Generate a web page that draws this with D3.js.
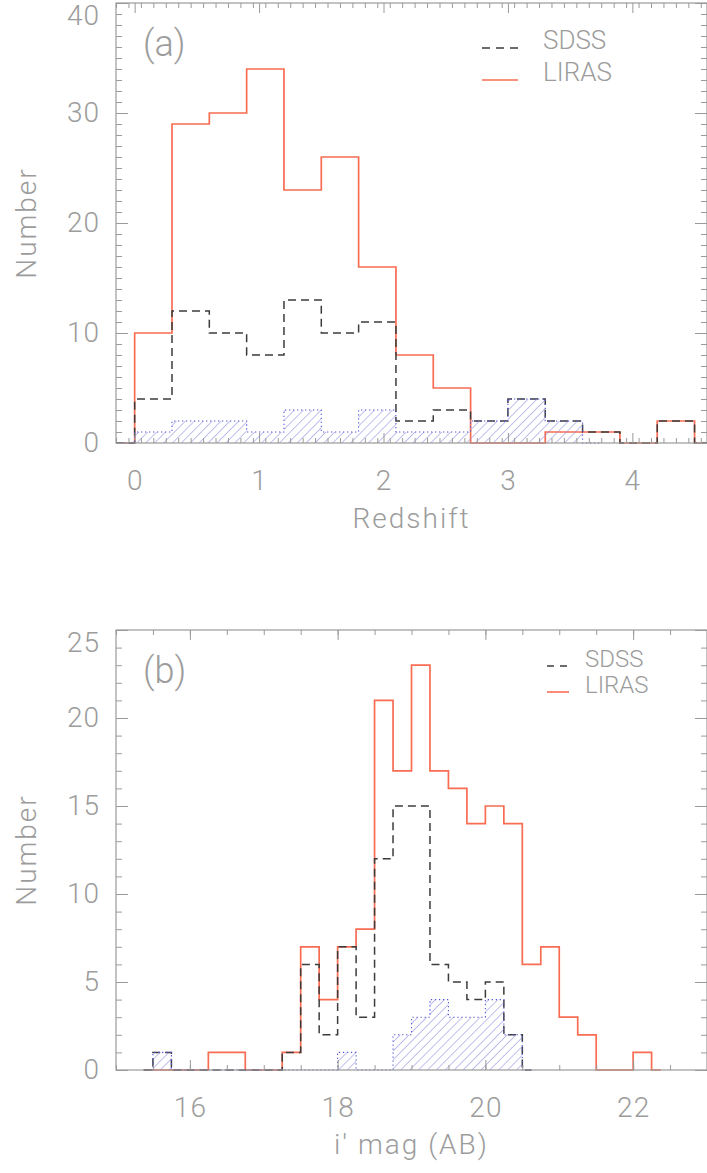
<!DOCTYPE html>
<html><head><meta charset="utf-8">
<script src="https://cdn.jsdelivr.net/npm/d3@7"></script>
<style>
body{margin:0;background:#fff;}
svg text{font-family:Roboto,"Liberation Sans","DejaVu Sans",sans-serif;fill:#9c9c9c;font-weight:300;}
</style></head><body>
<svg id="c" width="707" height="1173"></svg>
<script>
// ---------- Panel (a): redshift histograms (bin centres, width 0.3) ----------
const zCenters = [-0.15,0.15,0.45,0.75,1.05,1.35,1.65,1.95,2.25,2.55,2.85,3.15,3.45,3.75,4.05,4.35,4.65];
const zLIRAS   = [0,10,29,30,34,23,26,16,8,5,0,0,1,1,0,2,0];
const zSDSS    = [0,4,12,10,8,13,10,11,2,3,2,4,2,1,0,2,0];
const zHatch   = [0,1,2,2,1,3,1,3,1,1,2,4,2,0];
const zXTicks  = [0,1,2,3,4];
const zYTicks  = [0,10,20,30,40];

// ---------- Panel (b): i' magnitude histograms (bin centres, width 0.25) ----------
const mCenters = [15.375,15.625,15.875,16.125,16.375,16.625,16.875,17.125,17.375,17.625,17.875,18.125,18.375,18.625,18.875,19.125,19.375,19.625,19.875,20.125,20.375,20.625,20.875,21.125,21.375,21.625,21.875,22.125,22.375];
const mLIRAS   = [0,0,0,0,1,1,0,0,1,7,4,7,8,21,17,23,17,16,14,15,14,6,7,3,2,0,0,1,0];
const mSDSS    = [0,1,0,0,0,0,0,0,1,6,2,7,3,12,15,15,6,5,4,5,2,0];
const mHatch   = [0,1,0,0,0,0,0,0,0,0,0,1,0,0,2,3,4,3,3,4,2,0];
const mXTicks  = [16,18,20,22];
const mYTicks  = [0,5,10,15,20,25];

const seriesNames = ["SDSS","LIRAS"];
const panelTags = ["(a)","(b)"];
const xTitles = ["Redshift","i\u2032 mag (AB)"];
const yTitle = "Number";

const ORANGE = "#f86c52", DARK = "#3c3c3c", AXIS = "#9a9a9a";
const HATCH = "#8c8cdc", HATCH_EDGE = "#5555d8";

const svg = d3.select("#c");
const defs = svg.append("defs");
const pat = defs.append("pattern").attr("id","hatch").attr("patternUnits","userSpaceOnUse")
  .attr("width",6.3).attr("height",6.3).attr("patternTransform","rotate(45)");
pat.append("line").attr("x1",0).attr("y1",-1).attr("x2",0).attr("y2",7.3)
  .attr("stroke",HATCH).attr("stroke-width",1.1);

const L = 116, R = 707;

function stepPath(x, y, cs, vs, close){
  let d = `M${x(cs[0])},${y(vs[0])}`;
  for(let i=1;i<vs.length;i++){
    const mid = (cs[i-1]+cs[i])/2;
    d += `H${x(mid)}V${y(vs[i])}`;
  }
  d += `H${x(cs[vs.length-1])}`;
  if(close) d += `V${y(0)}H${x(cs[0])}Z`;
  return d;
}

function panel(cfg, idx){
  const g = svg.append("g");
  const x = d3.scaleLinear().domain(cfg.xDomain).range([L,R]);
  const y = d3.scaleLinear().domain(cfg.yDomain).range([cfg.bottom,cfg.top]);
  const cid = "clip"+idx;
  defs.append("clipPath").attr("id",cid).append("rect")
    .attr("x",L).attr("y",cfg.top-2).attr("width",R-L).attr("height",cfg.bottom-cfg.top+4);
  const h = g.append("g").attr("clip-path",`url(#${cid})`);

  h.append("path").attr("d",stepPath(x,y,cfg.centers,cfg.liras,false))
    .attr("fill","none").attr("stroke",ORANGE).attr("stroke-width",1.7);
  h.append("path").attr("d",stepPath(x,y,cfg.centers,cfg.sdss,false))
    .attr("fill","none").attr("stroke",DARK).attr("stroke-width",1.5).attr("stroke-dasharray","8,5");
  h.append("path").attr("d",stepPath(x,y,cfg.centers,cfg.hatch,true))
    .attr("fill","url(#hatch)").attr("stroke","none");
  h.append("path").attr("d",stepPath(x,y,cfg.centers,cfg.hatch,false))
    .attr("fill","none").attr("stroke",HATCH_EDGE).attr("stroke-width",1.1).attr("stroke-dasharray","1.3,2.7");

  const styleAxis = sel => { sel.select(".domain").remove(); sel.selectAll("line").attr("stroke",AXIS); };
  const xMinor = d3.range(cfg.xDomain[0], cfg.xDomain[1]+1e-9, cfg.xMinorStep).map(v=>+v.toFixed(3));
  const yMinor = d3.range(cfg.yDomain[0], cfg.yDomain[1]+1e-9, cfg.yMinorStep);
  g.append("g").attr("transform",`translate(0,${cfg.bottom})`)
    .call(d3.axisBottom(x).tickValues(xMinor).tickSize(-5).tickFormat("")).call(styleAxis);
  g.append("g").attr("transform",`translate(0,${cfg.top})`)
    .call(d3.axisTop(x).tickValues(xMinor).tickSize(-5).tickFormat("")).call(styleAxis);
  g.append("g").attr("transform",`translate(0,${cfg.top})`)
    .call(d3.axisTop(x).tickValues(cfg.xTicks).tickSize(-10).tickFormat("")).call(styleAxis);
  const bx = g.append("g").attr("transform",`translate(0,${cfg.bottom})`)
    .call(d3.axisBottom(x).tickValues(cfg.xTicks).tickSize(-10).tickPadding(27).tickFormat(d3.format("d"))).call(styleAxis);
  bx.selectAll("text").attr("font-size",28).attr("fill",null).style("letter-spacing","1px");
  bx.attr("font-family",null).attr("font-size",null);

  g.append("g").attr("transform",`translate(${L},0)`)
    .call(d3.axisLeft(y).tickValues(yMinor).tickSize(-6).tickFormat("")).call(styleAxis);
  g.append("g").attr("transform",`translate(${R},0)`)
    .call(d3.axisRight(y).tickValues(yMinor).tickSize(-6).tickFormat("")).call(styleAxis);
  g.append("g").attr("transform",`translate(${R},0)`)
    .call(d3.axisRight(y).tickValues(cfg.yTicks).tickSize(-12).tickFormat("")).call(styleAxis);
  const ly = g.append("g").attr("transform",`translate(${L},0)`)
    .call(d3.axisLeft(y).tickValues(cfg.yTicks).tickSize(-12).tickPadding(16).tickFormat(d3.format("d"))).call(styleAxis);
  ly.selectAll("text").attr("font-size",28).attr("fill",null).style("letter-spacing","1px");
  // keep the top label inside the picture, as in the reference
  ly.selectAll("text").filter(d=>d===cfg.yDomain[1]).attr("dy","0.32em").attr("y",13);
  ly.attr("font-family",null).attr("font-size",null);

  g.append("rect").attr("x",L).attr("y",cfg.top).attr("width",R-L).attr("height",cfg.bottom-cfg.top)
    .attr("fill","none").attr("stroke",AXIS).attr("stroke-width",1.2);

  g.append("text").attr("x",(L+R)/2).attr("y",cfg.bottom+cfg.xTitleDy).attr("text-anchor","middle")
    .attr("font-size",28).style("letter-spacing","2px").text(cfg.xTitle);
  g.append("text").attr("transform",`translate(36,${(cfg.top+cfg.bottom)/2}) rotate(-90)`)
    .attr("text-anchor","middle").attr("font-size",28).style("letter-spacing","2px").text(yTitle);
  g.append("text").attr("x",143).attr("y",cfg.top+53).attr("font-size",36).text(cfg.tag);

  const lg = cfg.legend;
  seriesNames.forEach((name,i)=>{
    const yy = lg.y + i*lg.dy;
    g.append("line").attr("x1",lg.x1).attr("x2",lg.x2).attr("y1",yy).attr("y2",yy)
      .attr("stroke", i===0?DARK:ORANGE).attr("stroke-width",1.6)
      .attr("stroke-dasharray", i===0?lg.dash:null);
    g.append("text").attr("x",lg.tx).attr("y",yy+1).attr("font-size",lg.fs).text(name);
  });
}

panel({top:3,bottom:443,xDomain:[-0.15,4.6],yDomain:[0,40],xMinorStep:0.1,yMinorStep:1,
  centers:zCenters,liras:zLIRAS,sdss:zSDSS,hatch:zHatch,xTicks:zXTicks,yTicks:zYTicks,
  xTitle:xTitles[0],xTitleDy:85,tag:panelTags[0],
  legend:{x1:482,x2:518,tx:543,y:48,dy:32,dash:"8,6",fs:26}},0);

panel({top:630,bottom:1070,xDomain:[15,23],yDomain:[0,25],xMinorStep:0.5,yMinorStep:1,
  centers:mCenters,liras:mLIRAS,sdss:mSDSS,hatch:mHatch,xTicks:mXTicks,yTicks:mYTicks,
  xTitle:xTitles[1],xTitleDy:84,tag:panelTags[1],
  legend:{x1:547,x2:569,tx:585,y:666,dy:26,dash:"7,6",fs:24}},1);
</script>
</body></html>
